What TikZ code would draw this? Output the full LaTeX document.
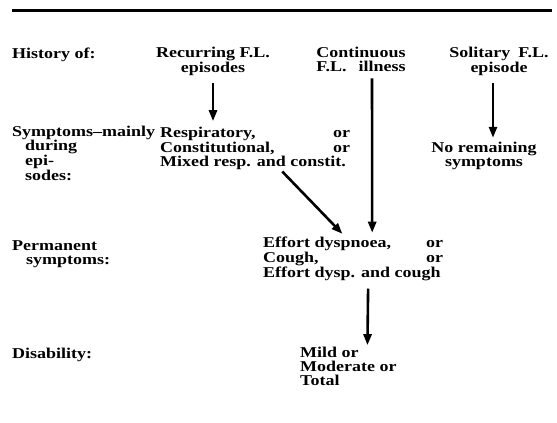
\documentclass[tikz,border=0pt]{standalone}
\usepackage{fontspec}
\setmainfont{Liberation Serif}[FakeStretch=1.2]
\usetikzlibrary{arrows.meta}

\begin{document}
\begin{tikzpicture}[x=1pt,y=-1pt,
    txt/.style={inner sep=0pt,font=\fontsize{15}{13.6}\selectfont\bfseries},
    arr/.style={line width=2.6pt,-{Triangle[length=11pt,width=8pt]}}]
    \useasboundingbox (0,0) rectangle (557,423);
    \draw[line width=3pt] (12,10) -- (552,10);

    % row labels (multi-line nodes sit on their last line)
    \node[txt,anchor=base west,align=left] (hist) at (12,58) {History of:};
    \node[txt,anchor=base west,align=left] (symp) at (12,180) {Symptoms--mainly\\\hspace*{13pt}during\\\hspace*{13pt}epi-\\\hspace*{13pt}sodes:};
    \node[txt,anchor=base west,align=left] (perm) at (12,264) {Permanent\\\hspace*{14pt}symptoms:};
    \node[txt,anchor=base west,align=left] (disab) at (12,358) {Disability:};

    % histories
    \node[txt,anchor=base,align=center] (recur) at (213,72) {Recurring F.L.\\episodes};
    \node[txt,anchor=base,align=center] (contin) at (361,71) {Continuous\\F.L.\hspace{12pt}illness};
    \node[txt,anchor=base,align=center] (solit) at (499,72) {Solitary\hspace{8pt}F.L.\\episode};

    % symptoms
    \node[txt,anchor=base west,align=left] (resp) at (160,166)
        {\makebox[190pt][l]{Respiratory,\hfill or}\\\makebox[190pt][l]{Constitutional,\hfill or}\\Mixed resp. and constit.};
    \node[txt,anchor=base,align=center] (noremain) at (484,166) {No remaining\\symptoms};

    % permanent symptoms
    \node[txt,anchor=base west,align=left] (effort) at (263,277)
        {\makebox[180pt][l]{Effort dyspnoea,\hfill or}\\\makebox[180pt][l]{Cough,\hfill or}\\Effort dysp. and cough};

    % disability
    \node[txt,anchor=base west,align=left] (mild) at (300,385) {Mild or\\Moderate or\\Total};

    % connectors
    \draw[arr,shorten <=8pt,shorten >=6pt] (recur.south) -- (recur.south |- resp.north);
    \draw[arr,shorten <=7pt,shorten >=4pt] ([xshift=11pt]contin.south) -- ([xshift=19pt]effort.north);
    \draw[arr,shorten <=8pt,shorten >=4pt] ([xshift=-6pt]solit.south) -- ([xshift=9pt]noremain.north);
    \draw[arr,shorten <=3pt,shorten >=4pt] ([xshift=25pt]resp.south) -- ([xshift=-8pt]effort.north);
    \draw[arr,shorten <=8pt,shorten >=2pt] ([xshift=15pt]effort.south) -- ([xshift=19pt]mild.north);
\end{tikzpicture}
\end{document}
